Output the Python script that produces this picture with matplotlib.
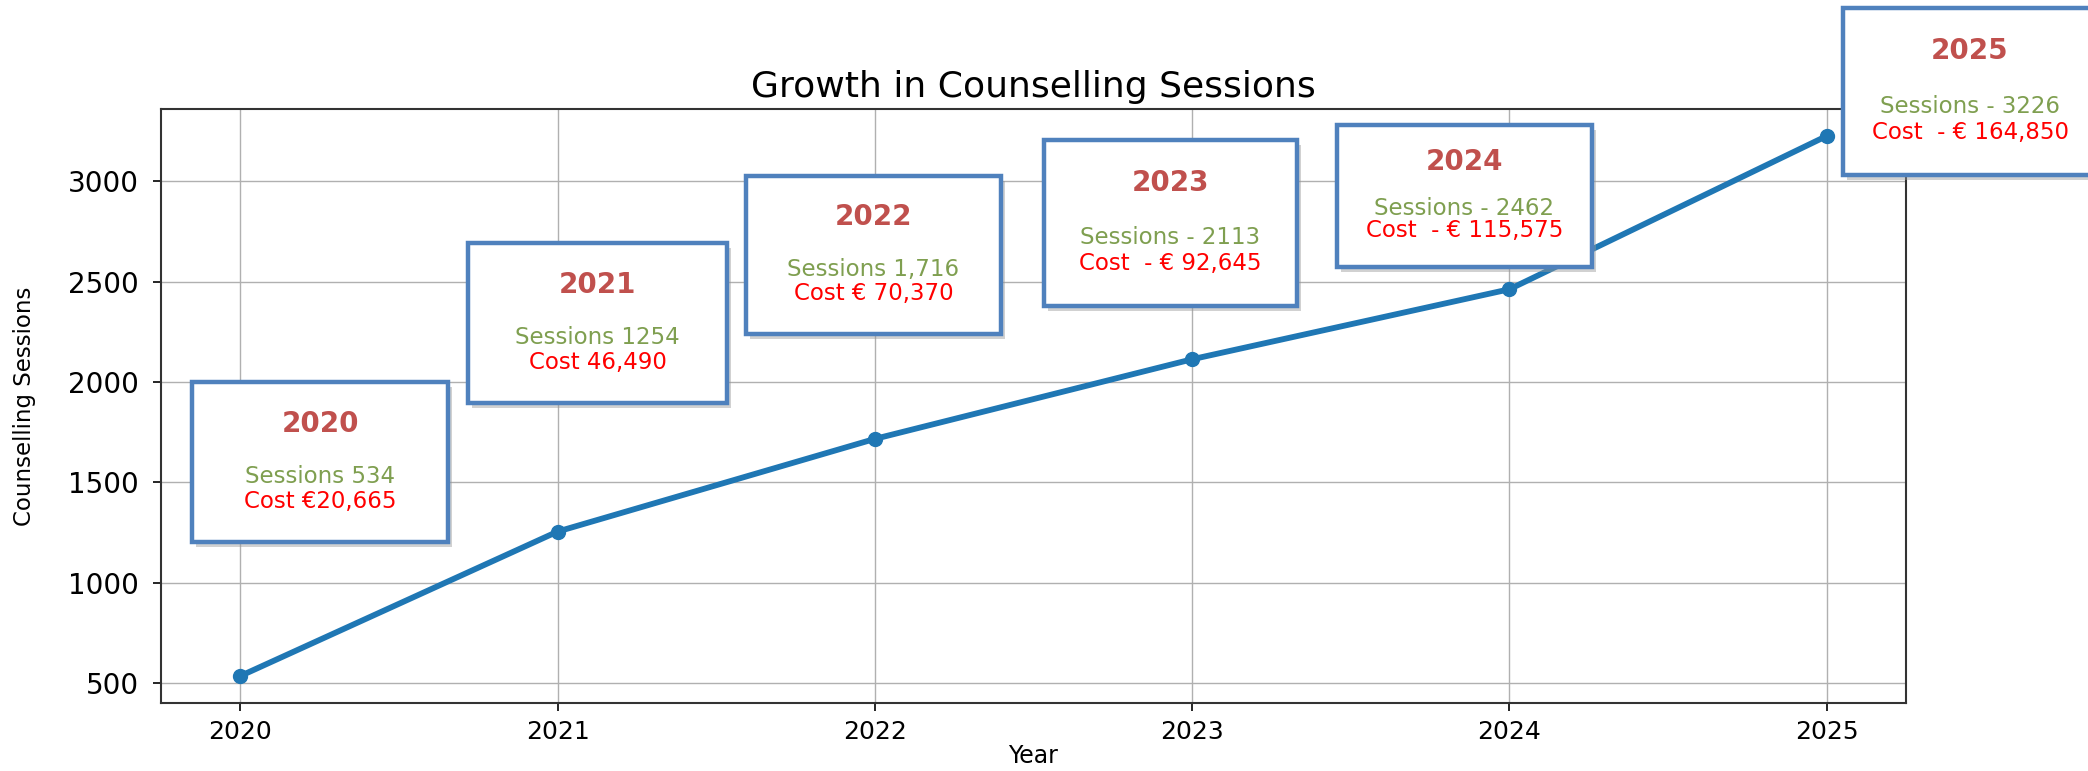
import matplotlib
matplotlib.use("Agg")
import matplotlib.pyplot as plt
from matplotlib.patches import Rectangle

# ---- data ----
years = [2020, 2021, 2022, 2023, 2024, 2025]
sessions = [534, 1254, 1716, 2113, 2462, 3226]
box_years = ["2020", "2021", "2022", "2023", "2024", "2025"]
session_labels = ["Sessions 534", "Sessions 1254", "Sessions 1,716",
                  "Sessions - 2113", "Sessions - 2462", "Sessions - 3226"]
cost_labels = ["Cost \u20ac20,665", "Cost 46,490", "Cost \u20ac 70,370",
               "Cost  - \u20ac 92,645", "Cost  - \u20ac 115,575", "Cost  - \u20ac 164,850"]
yticks = [500, 1000, 1500, 2000, 2500, 3000]

# ---- layout (figure pixels: left, top, width, height) ----
W, H = 2088, 771
box_layout = [(192, 382, 256, 160), (468, 243, 259, 160), (746, 176, 255, 158),
              (1044, 140, 253, 166), (1337, 125, 255, 142), (1843, 8, 254, 167)]

fig = plt.figure(figsize=(W / 100, H / 100), dpi=100)
ax = fig.add_axes([161 / W, (H - 703) / H, (1906 - 161) / W, (703 - 109) / H])

ax.plot(years, sessions, color="#1f77b4", linewidth=4.2, marker="o", markersize=10)
ax.grid(True, color="#b0b0b0", linewidth=1.0)
ax.set_xticks(years)
ax.set_xticklabels([str(y) for y in years])
ax.set_yticks(yticks)
ax.tick_params(axis="x", labelsize=18, length=6, width=1.2, pad=6)
ax.tick_params(axis="y", labelsize=20, length=6, width=1.2, pad=10)
for s in ax.spines.values():
    s.set_linewidth(1.5)
    s.set_color("#333333")

ax.set_title("Growth in Counselling Sessions", fontsize=26, pad=9)
ax.set_xlabel("Year", fontsize=17, labelpad=0)
ax.set_ylabel("Counselling Sessions", fontsize=16.5, labelpad=23)

edge = "#4F81BD"
for (l, t, w, h), yr, sl, cl in zip(box_layout, box_years, session_labels, cost_labels):
    x0 = l / W
    y0 = (H - t - h) / H
    fw, fh = w / W, h / H
    shadow = Rectangle((x0 + 4 / W, y0 - 5 / H), fw, fh, transform=fig.transFigure,
                       facecolor="#999999", edgecolor="none", alpha=0.45, zorder=9)
    fig.patches.append(shadow)
    rect = Rectangle((x0, y0), fw, fh, transform=fig.transFigure, facecolor="white",
                     edgecolor=edge, linewidth=3.2, zorder=10)
    fig.patches.append(rect)
    cx = (l + w / 2) / W
    fig.text(cx, (H - (t + 0.26 * h)) / H, yr, ha="center", va="center",
             fontsize=20, fontweight="bold", color="#C0504D", zorder=11)
    fig.text(cx, (H - (t + 0.59 * h)) / H, sl, ha="center", va="center",
             fontsize=16.5, color="#7F9F50", zorder=11)
    fig.text(cx, (H - (t + 0.745 * h)) / H, cl, ha="center", va="center",
             fontsize=16.5, color="#FF0000", zorder=11)

fig.savefig("out.png", dpi=100)
